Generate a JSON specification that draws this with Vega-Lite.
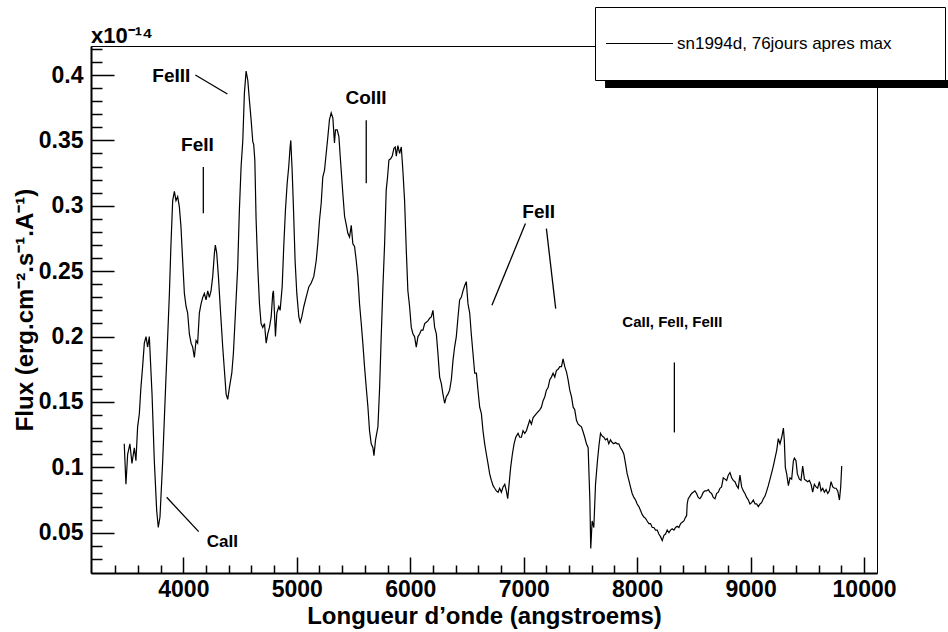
{
  "$schema": "https://vega.github.io/schema/vega-lite/v6.json",
  "width": 786,
  "height": 527,
  "autosize": {"type": "none"},
  "padding": {"left": 91, "top": 46, "right": 71, "bottom": 59},
  "background": "white",
  "title": {"text": "x10⁻¹⁴", "anchor": "start", "frame": "group", "font": "Liberation Sans", "fontSize": 22, "fontWeight": "bold", "color": "black", "offset": -41},
  "config": {"view": {"stroke": "black", "strokeWidth": 1}},
  "datasets": {
    "spectrum": [
      {"wavelength":3479,"flux":0.118},{"wavelength":3494,"flux":0.087},{"wavelength":3509,"flux":0.110},{"wavelength":3529,"flux":0.118},{"wavelength":3547,"flux":0.103},{"wavelength":3568,"flux":0.115},{"wavelength":3582,"flux":0.105},{"wavelength":3597,"flux":0.131},{"wavelength":3612,"flux":0.141},{"wavelength":3626,"flux":0.161},{"wavelength":3641,"flux":0.177},{"wavelength":3656,"flux":0.195},{"wavelength":3671,"flux":0.200},{"wavelength":3685,"flux":0.192},{"wavelength":3700,"flux":0.200},{"wavelength":3706,"flux":0.189},{"wavelength":3724,"flux":0.156},{"wavelength":3744,"flux":0.105},{"wavelength":3765,"flux":0.067},{"wavelength":3779,"flux":0.054},{"wavelength":3794,"flux":0.062},{"wavelength":3818,"flux":0.105},{"wavelength":3847,"flux":0.169},{"wavelength":3862,"flux":0.200},{"wavelength":3877,"flux":0.233},{"wavelength":3891,"flux":0.271},{"wavelength":3906,"flux":0.304},{"wavelength":3921,"flux":0.311},{"wavelength":3935,"flux":0.304},{"wavelength":3950,"flux":0.307},{"wavelength":3965,"flux":0.299},{"wavelength":3979,"flux":0.284},{"wavelength":3994,"flux":0.258},{"wavelength":4009,"flux":0.233},{"wavelength":4024,"flux":0.223},{"wavelength":4038,"flux":0.218},{"wavelength":4053,"flux":0.202},{"wavelength":4068,"flux":0.195},{"wavelength":4082,"flux":0.192},{"wavelength":4097,"flux":0.184},{"wavelength":4112,"flux":0.197},{"wavelength":4126,"flux":0.195},{"wavelength":4141,"flux":0.218},{"wavelength":4156,"flux":0.225},{"wavelength":4171,"flux":0.230},{"wavelength":4185,"flux":0.233},{"wavelength":4200,"flux":0.228},{"wavelength":4215,"flux":0.235},{"wavelength":4229,"flux":0.230},{"wavelength":4244,"flux":0.235},{"wavelength":4259,"flux":0.246},{"wavelength":4274,"flux":0.264},{"wavelength":4282,"flux":0.270},{"wavelength":4294,"flux":0.264},{"wavelength":4309,"flux":0.246},{"wavelength":4327,"flux":0.220},{"wavelength":4347,"flux":0.192},{"wavelength":4362,"flux":0.174},{"wavelength":4377,"flux":0.156},{"wavelength":4391,"flux":0.152},{"wavelength":4406,"flux":0.161},{"wavelength":4427,"flux":0.172},{"wavelength":4441,"flux":0.187},{"wavelength":4459,"flux":0.218},{"wavelength":4479,"flux":0.253},{"wavelength":4494,"flux":0.297},{"wavelength":4509,"flux":0.330},{"wavelength":4524,"flux":0.350},{"wavelength":4538,"flux":0.386},{"wavelength":4553,"flux":0.403},{"wavelength":4568,"flux":0.396},{"wavelength":4582,"flux":0.381},{"wavelength":4597,"flux":0.366},{"wavelength":4612,"flux":0.349},{"wavelength":4620,"flux":0.347},{"wavelength":4630,"flux":0.335},{"wavelength":4641,"flux":0.290},{"wavelength":4656,"flux":0.253},{"wavelength":4671,"flux":0.225},{"wavelength":4685,"flux":0.210},{"wavelength":4700,"flux":0.207},{"wavelength":4715,"flux":0.210},{"wavelength":4730,"flux":0.195},{"wavelength":4744,"flux":0.202},{"wavelength":4759,"flux":0.207},{"wavelength":4774,"flux":0.215},{"wavelength":4788,"flux":0.233},{"wavelength":4794,"flux":0.235},{"wavelength":4803,"flux":0.218},{"wavelength":4812,"flux":0.200},{"wavelength":4824,"flux":0.218},{"wavelength":4841,"flux":0.223},{"wavelength":4853,"flux":0.220},{"wavelength":4871,"flux":0.238},{"wavelength":4885,"flux":0.269},{"wavelength":4900,"flux":0.297},{"wavelength":4915,"flux":0.317},{"wavelength":4929,"flux":0.330},{"wavelength":4941,"flux":0.345},{"wavelength":4947,"flux":0.350},{"wavelength":4959,"flux":0.327},{"wavelength":4971,"flux":0.297},{"wavelength":4985,"flux":0.258},{"wavelength":5000,"flux":0.233},{"wavelength":5018,"flux":0.215},{"wavelength":5030,"flux":0.211},{"wavelength":5044,"flux":0.215},{"wavelength":5062,"flux":0.223},{"wavelength":5082,"flux":0.230},{"wavelength":5106,"flux":0.238},{"wavelength":5127,"flux":0.241},{"wavelength":5150,"flux":0.246},{"wavelength":5171,"flux":0.258},{"wavelength":5185,"flux":0.271},{"wavelength":5200,"flux":0.289},{"wavelength":5215,"flux":0.302},{"wavelength":5229,"flux":0.322},{"wavelength":5244,"flux":0.327},{"wavelength":5259,"flux":0.340},{"wavelength":5274,"flux":0.353},{"wavelength":5288,"flux":0.366},{"wavelength":5303,"flux":0.371},{"wavelength":5318,"flux":0.367},{"wavelength":5332,"flux":0.348},{"wavelength":5341,"flux":0.358},{"wavelength":5356,"flux":0.358},{"wavelength":5371,"flux":0.353},{"wavelength":5385,"flux":0.335},{"wavelength":5406,"flux":0.309},{"wavelength":5421,"flux":0.292},{"wavelength":5435,"flux":0.286},{"wavelength":5450,"flux":0.279},{"wavelength":5465,"flux":0.276},{"wavelength":5480,"flux":0.285},{"wavelength":5494,"flux":0.271},{"wavelength":5509,"flux":0.269},{"wavelength":5524,"flux":0.258},{"wavelength":5538,"flux":0.246},{"wavelength":5553,"flux":0.225},{"wavelength":5568,"flux":0.210},{"wavelength":5582,"flux":0.195},{"wavelength":5597,"flux":0.177},{"wavelength":5612,"flux":0.161},{"wavelength":5627,"flux":0.146},{"wavelength":5641,"flux":0.128},{"wavelength":5656,"flux":0.118},{"wavelength":5671,"flux":0.115},{"wavelength":5680,"flux":0.109},{"wavelength":5694,"flux":0.121},{"wavelength":5715,"flux":0.131},{"wavelength":5730,"flux":0.161},{"wavelength":5744,"flux":0.200},{"wavelength":5759,"flux":0.238},{"wavelength":5774,"flux":0.271},{"wavelength":5788,"flux":0.312},{"wavelength":5800,"flux":0.322},{"wavelength":5812,"flux":0.335},{"wavelength":5827,"flux":0.336},{"wavelength":5841,"flux":0.338},{"wavelength":5856,"flux":0.344},{"wavelength":5868,"flux":0.345},{"wavelength":5877,"flux":0.338},{"wavelength":5891,"flux":0.346},{"wavelength":5906,"flux":0.340},{"wavelength":5921,"flux":0.345},{"wavelength":5935,"flux":0.327},{"wavelength":5950,"flux":0.304},{"wavelength":5965,"flux":0.266},{"wavelength":5979,"flux":0.235},{"wavelength":5994,"flux":0.223},{"wavelength":6009,"flux":0.207},{"wavelength":6024,"flux":0.202},{"wavelength":6038,"flux":0.200},{"wavelength":6053,"flux":0.192},{"wavelength":6068,"flux":0.200},{"wavelength":6082,"flux":0.202},{"wavelength":6097,"flux":0.205},{"wavelength":6112,"flux":0.205},{"wavelength":6127,"flux":0.210},{"wavelength":6141,"flux":0.211},{"wavelength":6156,"flux":0.212},{"wavelength":6171,"flux":0.214},{"wavelength":6185,"flux":0.215},{"wavelength":6200,"flux":0.220},{"wavelength":6215,"flux":0.207},{"wavelength":6230,"flux":0.202},{"wavelength":6244,"flux":0.187},{"wavelength":6259,"flux":0.169},{"wavelength":6274,"flux":0.164},{"wavelength":6288,"flux":0.156},{"wavelength":6303,"flux":0.149},{"wavelength":6318,"flux":0.154},{"wavelength":6332,"flux":0.156},{"wavelength":6347,"flux":0.159},{"wavelength":6362,"flux":0.167},{"wavelength":6377,"flux":0.182},{"wavelength":6391,"flux":0.192},{"wavelength":6406,"flux":0.200},{"wavelength":6421,"flux":0.215},{"wavelength":6435,"flux":0.228},{"wavelength":6450,"flux":0.230},{"wavelength":6465,"flux":0.235},{"wavelength":6480,"flux":0.239},{"wavelength":6494,"flux":0.242},{"wavelength":6509,"flux":0.225},{"wavelength":6524,"flux":0.218},{"wavelength":6538,"flux":0.202},{"wavelength":6553,"flux":0.187},{"wavelength":6568,"flux":0.172},{"wavelength":6583,"flux":0.172},{"wavelength":6597,"flux":0.159},{"wavelength":6612,"flux":0.146},{"wavelength":6627,"flux":0.141},{"wavelength":6641,"flux":0.128},{"wavelength":6656,"flux":0.118},{"wavelength":6671,"flux":0.110},{"wavelength":6685,"flux":0.103},{"wavelength":6700,"flux":0.095},{"wavelength":6715,"flux":0.090},{"wavelength":6730,"flux":0.086},{"wavelength":6744,"flux":0.084},{"wavelength":6759,"flux":0.082},{"wavelength":6774,"flux":0.081},{"wavelength":6788,"flux":0.084},{"wavelength":6803,"flux":0.081},{"wavelength":6818,"flux":0.085},{"wavelength":6833,"flux":0.087},{"wavelength":6847,"flux":0.082},{"wavelength":6859,"flux":0.076},{"wavelength":6871,"flux":0.087},{"wavelength":6885,"flux":0.100},{"wavelength":6900,"flux":0.110},{"wavelength":6915,"flux":0.118},{"wavelength":6930,"flux":0.123},{"wavelength":6950,"flux":0.126},{"wavelength":6965,"flux":0.123},{"wavelength":6980,"flux":0.123},{"wavelength":6994,"flux":0.128},{"wavelength":7009,"flux":0.126},{"wavelength":7024,"flux":0.128},{"wavelength":7038,"flux":0.132},{"wavelength":7053,"flux":0.136},{"wavelength":7068,"flux":0.133},{"wavelength":7083,"flux":0.138},{"wavelength":7112,"flux":0.141},{"wavelength":7141,"flux":0.144},{"wavelength":7156,"flux":0.146},{"wavelength":7171,"flux":0.151},{"wavelength":7186,"flux":0.154},{"wavelength":7200,"flux":0.159},{"wavelength":7215,"flux":0.161},{"wavelength":7230,"flux":0.167},{"wavelength":7244,"flux":0.169},{"wavelength":7259,"flux":0.172},{"wavelength":7274,"flux":0.169},{"wavelength":7288,"flux":0.174},{"wavelength":7303,"flux":0.175},{"wavelength":7318,"flux":0.177},{"wavelength":7333,"flux":0.177},{"wavelength":7347,"flux":0.183},{"wavelength":7362,"flux":0.177},{"wavelength":7377,"flux":0.173},{"wavelength":7391,"flux":0.167},{"wavelength":7406,"flux":0.159},{"wavelength":7421,"flux":0.154},{"wavelength":7436,"flux":0.146},{"wavelength":7450,"flux":0.144},{"wavelength":7465,"flux":0.136},{"wavelength":7480,"flux":0.133},{"wavelength":7494,"flux":0.132},{"wavelength":7509,"flux":0.131},{"wavelength":7524,"flux":0.127},{"wavelength":7538,"flux":0.123},{"wavelength":7553,"flux":0.118},{"wavelength":7568,"flux":0.115},{"wavelength":7583,"flux":0.075},{"wavelength":7591,"flux":0.038},{"wavelength":7603,"flux":0.059},{"wavelength":7618,"flux":0.054},{"wavelength":7633,"flux":0.087},{"wavelength":7650,"flux":0.105},{"wavelength":7665,"flux":0.118},{"wavelength":7677,"flux":0.126},{"wavelength":7691,"flux":0.124},{"wavelength":7706,"flux":0.123},{"wavelength":7721,"flux":0.121},{"wavelength":7736,"flux":0.122},{"wavelength":7750,"flux":0.118},{"wavelength":7765,"flux":0.121},{"wavelength":7780,"flux":0.119},{"wavelength":7794,"flux":0.118},{"wavelength":7809,"flux":0.119},{"wavelength":7824,"flux":0.118},{"wavelength":7838,"flux":0.118},{"wavelength":7853,"flux":0.115},{"wavelength":7868,"flux":0.113},{"wavelength":7883,"flux":0.110},{"wavelength":7897,"flux":0.103},{"wavelength":7912,"flux":0.095},{"wavelength":7927,"flux":0.090},{"wavelength":7941,"flux":0.085},{"wavelength":7956,"flux":0.080},{"wavelength":7971,"flux":0.077},{"wavelength":7986,"flux":0.075},{"wavelength":8000,"flux":0.072},{"wavelength":8015,"flux":0.070},{"wavelength":8030,"flux":0.067},{"wavelength":8044,"flux":0.064},{"wavelength":8059,"flux":0.062},{"wavelength":8074,"flux":0.061},{"wavelength":8088,"flux":0.059},{"wavelength":8103,"flux":0.057},{"wavelength":8118,"flux":0.057},{"wavelength":8133,"flux":0.054},{"wavelength":8147,"flux":0.054},{"wavelength":8162,"flux":0.052},{"wavelength":8177,"flux":0.052},{"wavelength":8191,"flux":0.049},{"wavelength":8206,"flux":0.047},{"wavelength":8221,"flux":0.044},{"wavelength":8236,"flux":0.048},{"wavelength":8250,"flux":0.049},{"wavelength":8265,"flux":0.052},{"wavelength":8280,"flux":0.050},{"wavelength":8294,"flux":0.052},{"wavelength":8309,"flux":0.053},{"wavelength":8324,"flux":0.052},{"wavelength":8339,"flux":0.054},{"wavelength":8353,"flux":0.055},{"wavelength":8368,"flux":0.054},{"wavelength":8383,"flux":0.057},{"wavelength":8397,"flux":0.058},{"wavelength":8412,"flux":0.059},{"wavelength":8427,"flux":0.062},{"wavelength":8436,"flux":0.063},{"wavelength":8441,"flux":0.072},{"wavelength":8450,"flux":0.076},{"wavelength":8465,"flux":0.078},{"wavelength":8480,"flux":0.080},{"wavelength":8494,"flux":0.081},{"wavelength":8509,"flux":0.082},{"wavelength":8524,"flux":0.080},{"wavelength":8538,"flux":0.077},{"wavelength":8553,"flux":0.076},{"wavelength":8568,"flux":0.078},{"wavelength":8583,"flux":0.081},{"wavelength":8597,"flux":0.082},{"wavelength":8612,"flux":0.082},{"wavelength":8627,"flux":0.083},{"wavelength":8641,"flux":0.081},{"wavelength":8656,"flux":0.080},{"wavelength":8671,"flux":0.077},{"wavelength":8686,"flux":0.076},{"wavelength":8700,"flux":0.080},{"wavelength":8715,"flux":0.081},{"wavelength":8730,"flux":0.084},{"wavelength":8744,"flux":0.085},{"wavelength":8759,"flux":0.092},{"wavelength":8774,"flux":0.091},{"wavelength":8789,"flux":0.090},{"wavelength":8803,"flux":0.094},{"wavelength":8818,"flux":0.096},{"wavelength":8833,"flux":0.092},{"wavelength":8847,"flux":0.090},{"wavelength":8862,"flux":0.089},{"wavelength":8877,"flux":0.086},{"wavelength":8891,"flux":0.084},{"wavelength":8906,"flux":0.094},{"wavelength":8921,"flux":0.085},{"wavelength":8936,"flux":0.082},{"wavelength":8950,"flux":0.080},{"wavelength":8965,"flux":0.077},{"wavelength":8980,"flux":0.075},{"wavelength":8994,"flux":0.072},{"wavelength":9009,"flux":0.073},{"wavelength":9024,"flux":0.075},{"wavelength":9039,"flux":0.072},{"wavelength":9053,"flux":0.072},{"wavelength":9068,"flux":0.070},{"wavelength":9083,"flux":0.072},{"wavelength":9097,"flux":0.073},{"wavelength":9112,"flux":0.076},{"wavelength":9127,"flux":0.078},{"wavelength":9142,"flux":0.082},{"wavelength":9156,"flux":0.086},{"wavelength":9171,"flux":0.091},{"wavelength":9186,"flux":0.096},{"wavelength":9200,"flux":0.101},{"wavelength":9215,"flux":0.107},{"wavelength":9230,"flux":0.113},{"wavelength":9244,"flux":0.122},{"wavelength":9259,"flux":0.118},{"wavelength":9274,"flux":0.123},{"wavelength":9289,"flux":0.130},{"wavelength":9297,"flux":0.121},{"wavelength":9306,"flux":0.100},{"wavelength":9318,"flux":0.095},{"wavelength":9333,"flux":0.086},{"wavelength":9347,"flux":0.092},{"wavelength":9362,"flux":0.091},{"wavelength":9377,"flux":0.105},{"wavelength":9386,"flux":0.107},{"wavelength":9400,"flux":0.105},{"wavelength":9412,"flux":0.095},{"wavelength":9430,"flux":0.091},{"wavelength":9444,"flux":0.090},{"wavelength":9459,"flux":0.101},{"wavelength":9474,"flux":0.091},{"wavelength":9489,"flux":0.090},{"wavelength":9503,"flux":0.089},{"wavelength":9518,"flux":0.090},{"wavelength":9533,"flux":0.087},{"wavelength":9547,"flux":0.081},{"wavelength":9562,"flux":0.087},{"wavelength":9577,"flux":0.085},{"wavelength":9591,"flux":0.084},{"wavelength":9606,"flux":0.089},{"wavelength":9621,"flux":0.082},{"wavelength":9636,"flux":0.084},{"wavelength":9650,"flux":0.081},{"wavelength":9665,"flux":0.083},{"wavelength":9680,"flux":0.080},{"wavelength":9694,"flux":0.082},{"wavelength":9709,"flux":0.089},{"wavelength":9724,"flux":0.085},{"wavelength":9739,"flux":0.084},{"wavelength":9753,"flux":0.084},{"wavelength":9768,"flux":0.082},{"wavelength":9783,"flux":0.075},{"wavelength":9794,"flux":0.085},{"wavelength":9803,"flux":0.101}
    ],
    "labels": [
      {"label":"FeIII","wavelength":3894,"flux":0.3992},
      {"label":"FeII","wavelength":4124,"flux":0.3464},
      {"label":"CoIII","wavelength":5610,"flux":0.3828},
      {"label":"FeII","wavelength":7132,"flux":0.2955},
      {"label":"CaII, FeII, FeIII","wavelength":8310,"flux":0.2113},
      {"label":"CaII","wavelength":4344,"flux":0.0432}
    ],
    "pointers": [
      {"wavelength":4106,"flux":0.4000,"wavelength2":4388,"flux2":0.3855},
      {"wavelength":4176,"flux":0.3296,"wavelength2":4176,"flux2":0.2943},
      {"wavelength":5612,"flux":0.3655,"wavelength2":5612,"flux2":0.3173},
      {"wavelength":7015,"flux":0.2864,"wavelength2":6720,"flux2":0.2239},
      {"wavelength":7200,"flux":0.2826,"wavelength2":7282,"flux2":0.2214},
      {"wavelength":8328,"flux":0.1802,"wavelength2":8328,"flux2":0.1267},
      {"wavelength":3853,"flux":0.0771,"wavelength2":4135,"flux2":0.0508}
    ]
  },
  "layer": [
    {
      "data": {"values": [{}]},
      "mark": {"type": "rect", "color": "black", "clip": false},
      "encoding": {
        "x": {"datum": 7717, "type": "quantitative", "scale": {"domain": [3186, 10114], "nice": false, "zero": false}},
        "x2": {"datum": 10758},
        "y": {"datum": 0.3962, "type": "quantitative", "scale": {"domain": [0.0192, 0.4222], "nice": false, "zero": false}},
        "y2": {"datum": 0.3901}
      }
    },
    {
      "data": {"name": "spectrum"},
      "mark": {"type": "line", "strokeWidth": 1.2, "clip": true},
      "encoding": {
        "x": {
          "field": "wavelength", "type": "quantitative",
          "scale": {"domain": [3186, 10114], "nice": false, "zero": false},
          "axis": {
            "title": "Longueur d’onde (angstroems)",
            "values": [3400,3600,3800,4000,4200,4400,4600,4800,5000,5200,5400,5600,5800,6000,6200,6400,6600,6800,7000,7200,7400,7600,7800,8000,8200,8400,8600,8800,9000,9200,9400,9600,9800,10000],
            "tickCount": 200,
            "format": "d",
            "labelExpr": "datum.value % 1000 === 0 ? datum.label : ''",
            "tickSize": {"condition": {"test": "datum.value % 1000 === 0", "value": -16}, "value": -8},
            "tickWidth": 1.5, "tickColor": "black",
            "domainColor": "black", "domainWidth": 2,
            "grid": false,
            "labelFont": "Liberation Sans", "labelFontSize": 23, "labelFontWeight": "bold", "labelColor": "black",
            "labelPadding": 21, "labelOverlap": false, "labelFlush": false, "labelBound": false,
            "titleFont": "Liberation Sans", "titleFontSize": 24, "titleFontWeight": "bold", "titleColor": "black",
            "titlePadding": -5
          }
        },
        "y": {
          "field": "flux", "type": "quantitative",
          "scale": {"domain": [0.0192, 0.4222], "nice": false, "zero": false},
          "axis": {
            "title": "Flux (erg.cm⁻².s⁻¹.A⁻¹)",
            "values": [0.03,0.04,0.05,0.06,0.07,0.08,0.09,0.1,0.11,0.12,0.13,0.14,0.15,0.16,0.17,0.18,0.19,0.2,0.21,0.22,0.23,0.24,0.25,0.26,0.27,0.28,0.29,0.3,0.31,0.32,0.33,0.34,0.35,0.36,0.37,0.38,0.39,0.4,0.41,0.42],
            "tickCount": 200,
            "labelExpr": "round(datum.value * 100) % 5 === 0 ? format(datum.value, '~g') : ''",
            "tickSize": {"condition": {"test": "round(datum.value * 100) % 5 === 0", "value": -23}, "value": -11},
            "tickWidth": 1.5, "tickColor": "black",
            "domainColor": "black", "domainWidth": 2,
            "grid": false,
            "labelFont": "Liberation Sans", "labelFontSize": 23, "labelFontWeight": "bold", "labelColor": "black",
            "labelPadding": 31, "labelOverlap": false, "labelFlush": false, "labelBound": false,
            "titleFont": "Liberation Sans", "titleFontSize": 24, "titleFontWeight": "bold", "titleColor": "black",
            "titlePadding": 1
          }
        },
        "stroke": {
          "datum": "sn1994d, 76jours apres max",
          "type": "nominal",
          "scale": {"range": ["black"]},
          "legend": {
            "orient": "none", "legendX": 504, "legendY": -39,
            "title": null,
            "symbolType": "M-1,0H1",
            "symbolSize": 4489, "symbolStrokeWidth": 1.2, "symbolStrokeColor": "black", "symbolFillColor": "transparent",
            "clipHeight": 53, "padding": 10, "labelOffset": 3,
            "labelExpr": "datum.label + '\u2003\u2003\u00a0\u00a0\u200b'",
            "labelFont": "Liberation Sans", "labelFontSize": 17, "labelColor": "black", "labelLimit": 400,
            "strokeColor": "black", "fillColor": "white"
          }
        }
      }
    },
    {
      "data": {"name": "pointers"},
      "mark": {"type": "rule", "color": "black", "strokeWidth": 1.3},
      "encoding": {
        "x": {"field": "wavelength", "type": "quantitative", "scale": {"domain": [3186, 10114], "nice": false, "zero": false}},
        "y": {"field": "flux", "type": "quantitative", "scale": {"domain": [0.0192, 0.4222], "nice": false, "zero": false}},
        "x2": {"field": "wavelength2"},
        "y2": {"field": "flux2"}
      }
    },
    {
      "data": {"name": "labels"},
      "transform": [{"filter": "datum.label === 'FeIII' || datum.label === 'FeII' || datum.label === 'CoIII'"}],
      "mark": {"type": "text", "font": "Liberation Sans", "fontWeight": "bold", "fontSize": 19, "align": "center", "baseline": "middle", "color": "black"},
      "encoding": {
        "x": {"field": "wavelength", "type": "quantitative", "scale": {"domain": [3186, 10114], "nice": false, "zero": false}},
        "y": {"field": "flux", "type": "quantitative", "scale": {"domain": [0.0192, 0.4222], "nice": false, "zero": false}},
        "text": {"field": "label"}
      }
    },
    {
      "data": {"name": "labels"},
      "transform": [{"filter": "datum.label === 'CaII'"}],
      "mark": {"type": "text", "font": "Liberation Sans", "fontWeight": "bold", "fontSize": 17, "align": "center", "baseline": "middle", "color": "black"},
      "encoding": {
        "x": {"field": "wavelength", "type": "quantitative", "scale": {"domain": [3186, 10114], "nice": false, "zero": false}},
        "y": {"field": "flux", "type": "quantitative", "scale": {"domain": [0.0192, 0.4222], "nice": false, "zero": false}},
        "text": {"field": "label"}
      }
    },
    {
      "data": {"name": "labels"},
      "transform": [{"filter": "datum.label === 'CaII, FeII, FeIII'"}],
      "mark": {"type": "text", "font": "Liberation Sans", "fontWeight": "bold", "fontSize": 15, "align": "center", "baseline": "middle", "color": "black"},
      "encoding": {
        "x": {"field": "wavelength", "type": "quantitative", "scale": {"domain": [3186, 10114], "nice": false, "zero": false}},
        "y": {"field": "flux", "type": "quantitative", "scale": {"domain": [0.0192, 0.4222], "nice": false, "zero": false}},
        "text": {"field": "label"}
      }
    }
  ]
}
